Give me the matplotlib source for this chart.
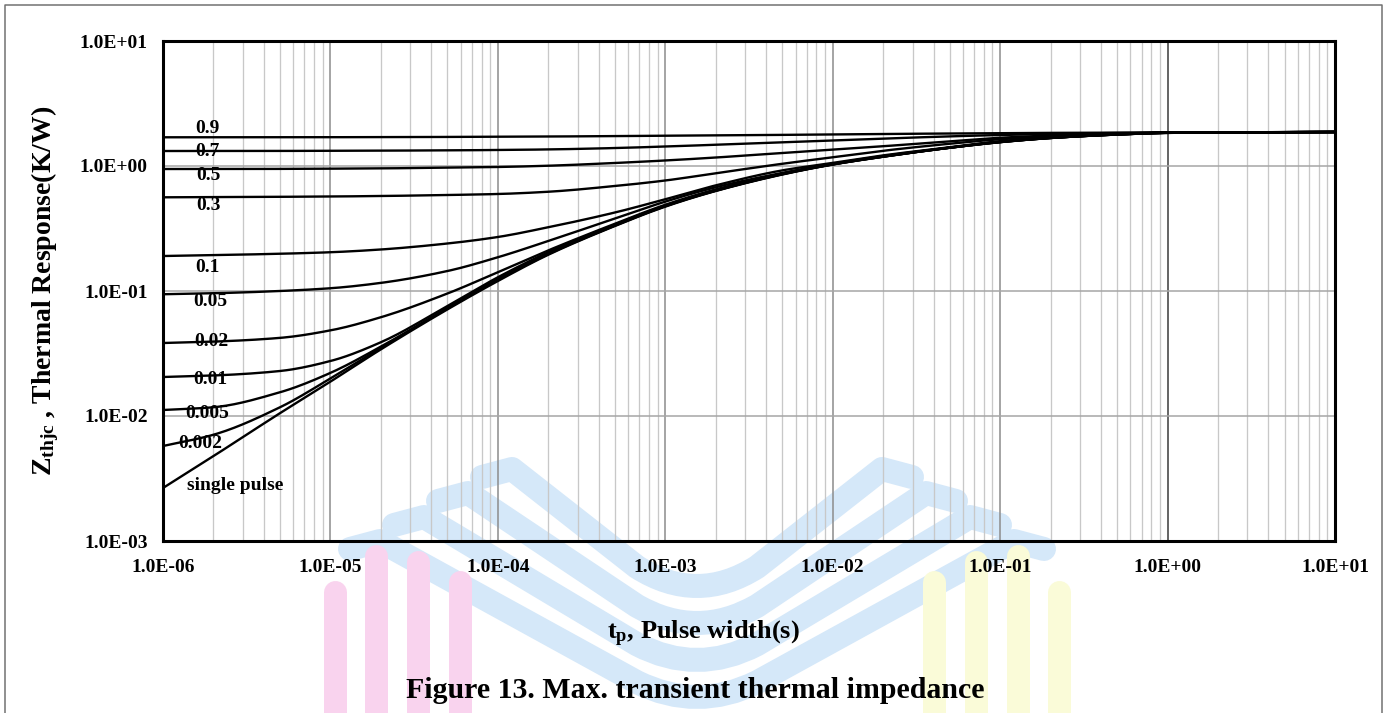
import numpy as np
import matplotlib
matplotlib.use("Agg")
import matplotlib.pyplot as plt
from matplotlib.path import Path
from matplotlib.patches import PathPatch
from matplotlib.ticker import FixedLocator, LogLocator, FuncFormatter, NullFormatter

plt.rcParams["font.family"] = ["Liberation Serif", "DejaVu Serif"]
plt.rcParams["font.weight"] = "bold"
plt.rcParams["mathtext.fontset"] = "custom"
plt.rcParams["mathtext.rm"] = "Liberation Serif:bold"
plt.rcParams["mathtext.it"] = "Liberation Serif:bold"
plt.rcParams["mathtext.bf"] = "Liberation Serif:bold"

# pulse width (s)
tp = [1e-6, 2e-6, 5e-6, 1e-5, 2e-5, 5e-5, 1e-4, 2e-4, 5e-4, 1e-3,
      2e-3, 5e-3, 1e-2, 2e-2, 5e-2, 1e-1, 2e-1, 5e-1, 1e0, 1e1]

# Zthjc (K/W) per duty cycle
z_09 = [1.697, 1.697, 1.698, 1.700, 1.702, 1.708, 1.716, 1.722, 1.734, 1.748,
        1.758, 1.774, 1.786, 1.803, 1.820, 1.832, 1.841, 1.849, 1.854, 1.871]
z_07 = [1.318, 1.318, 1.320, 1.323, 1.327, 1.334, 1.343, 1.357, 1.392, 1.432,
        1.479, 1.545, 1.600, 1.656, 1.726, 1.770, 1.803, 1.837, 1.854, 1.871]
z_05 = [0.946, 0.946, 0.948, 0.952, 0.957, 0.971, 0.982, 1.005, 1.057, 1.107,
        1.169, 1.271, 1.352, 1.439, 1.578, 1.683, 1.754, 1.820, 1.849, 1.871]
z_03 = [0.5618, 0.5636, 0.5669, 0.5702, 0.5754, 0.5861, 0.5970, 0.6223, 0.6918, 0.7656,
        0.8750, 1.042, 1.175, 1.324, 1.507, 1.637, 1.726, 1.811, 1.849, 1.871]
z_01 = [0.1905, 0.1936, 0.1986, 0.2042, 0.2148, 0.2399, 0.2704, 0.3236, 0.4246, 0.5420,
        0.6998, 0.9226, 1.059, 1.216, 1.413, 1.578, 1.690, 1.795, 1.845, 1.871]
z_005 = [0.0942, 0.0959, 0.1000, 0.1052, 0.1161, 0.1445, 0.1862, 0.2512, 0.3802, 0.5188,
         0.6761, 0.8810, 1.042, 1.202, 1.406, 1.567, 1.683, 1.791, 1.845, 1.871]
z_002 = [0.03837, 0.03936, 0.04217, 0.04842, 0.06166, 0.09550, 0.1413, 0.2113, 0.3451, 0.4898,
         0.6501, 0.8710, 1.038, 1.194, 1.403, 1.560, 1.679, 1.788, 1.844, 1.871]
z_001 = [0.02051, 0.02109, 0.02291, 0.02754, 0.03890, 0.07586, 0.1288, 0.2042, 0.3388, 0.4831,
         0.6397, 0.8650, 1.033, 1.190, 1.401, 1.556, 1.677, 1.787, 1.842, 1.871]
z_0005 = [0.01117, 0.01175, 0.01549, 0.02213, 0.03589, 0.07328, 0.1245, 0.1995, 0.3350, 0.4786,
          0.6353, 0.8610, 1.030, 1.189, 1.400, 1.554, 1.676, 1.787, 1.841, 1.871]
z_0002 = [0.005754, 0.007079, 0.01175, 0.01995, 0.03508, 0.07244, 0.1230, 0.1972, 0.3334, 0.4764,
          0.6339, 0.8590, 1.029, 1.187, 1.400, 1.552, 1.675, 1.786, 1.841, 1.871]
z_single = [0.002655, 0.004775, 0.01054, 0.01884, 0.03412, 0.07129, 0.1202, 0.1950, 0.3311, 0.4732,
            0.6310, 0.8551, 1.028, 1.186, 1.400, 1.552, 1.675, 1.786, 1.841, 1.871]

curves = [z_09, z_07, z_05, z_03, z_01, z_005, z_002, z_001, z_0005, z_0002, z_single]
curve_names = ["0.9", "0.7", "0.5", "0.3", "0.1", "0.05", "0.02", "0.01", "0.005", "0.002", "single pulse"]
# label anchor (axes fraction, baseline)
label_pos = [(0.0375, 0.816), (0.0375, 0.769), (0.0384, 0.723), (0.0384, 0.662),
             (0.0375, 0.539), (0.0401, 0.469), (0.041, 0.389), (0.0401, 0.314),
             (0.0375, 0.245), (0.0316, 0.185), (0.0614, 0.102)]


def smooth_loglog(x, y, per_seg=16):
    """Monotone cubic (Fritsch-Carlson) through the points, done in log-log space."""
    lx, ly = np.log10(x), np.log10(y)
    h = np.diff(lx)
    d = np.diff(ly) / h
    m = np.empty_like(ly)
    m[0], m[-1] = d[0], d[-1]
    for k in range(1, len(lx) - 1):
        if d[k - 1] * d[k] <= 0:
            m[k] = 0.0
        else:
            w1 = 2 * h[k] + h[k - 1]
            w2 = h[k] + 2 * h[k - 1]
            m[k] = (w1 + w2) / (w1 / d[k - 1] + w2 / d[k])
    xs, ys = [], []
    for k in range(len(lx) - 1):
        t = np.linspace(0, 1, per_seg, endpoint=False)
        h00 = 2 * t**3 - 3 * t**2 + 1
        h10 = t**3 - 2 * t**2 + t
        h01 = -2 * t**3 + 3 * t**2
        h11 = t**3 - t**2
        xs.append(lx[k] + t * h[k])
        ys.append(h00 * ly[k] + h10 * h[k] * m[k] + h01 * ly[k + 1] + h11 * h[k] * m[k + 1])
    xs.append([lx[-1]])
    ys.append([ly[-1]])
    return 10 ** np.concatenate(xs), 10 ** np.concatenate(ys)


W, H = 1391, 713
fig = plt.figure(figsize=(W / 100, H / 100), dpi=100)
px = 72 / fig.dpi

# background logo + page frame, in pixel coordinates
bg = fig.add_axes([0, 0, 1, 1], zorder=-1)
bg.set_xlim(0, W)
bg.set_ylim(H, 0)
bg.axis("off")
mid = 697
for cx, top in zip([335, 376, 418, 460], [592, 556, 562, 582]):
    bg.plot([cx, cx], [H + 30, top], color="#f9d3ee", lw=23 * px, solid_capstyle="round")
    bg.plot([2 * mid - cx] * 2, [H + 30, top], color="#fafbd8", lw=23 * px, solid_capstyle="round")

for i in range(4):
    ax0, ay0 = 482 - 44 * i, 477 + 24 * i
    hx, hy = ax0 + 30, ay0 - 8
    vy = 586 + 37 * i
    slope = (vy - hy) / (mid - hx)
    cy = vy + 30 * slope
    p1 = (mid - 60, cy - 60 * slope)
    p2 = (mid + 60, cy - 60 * slope)
    verts = [(ax0, ay0), (hx, hy), p1, (mid, cy), p2, (2 * mid - hx, hy), (2 * mid - ax0, ay0)]
    codes = [Path.MOVETO, Path.LINETO, Path.LINETO, Path.CURVE3, Path.CURVE3, Path.LINETO, Path.LINETO]
    band = PathPatch(Path(verts, codes), fill=False, edgecolor="#d5e8f9", lw=24 * px,
                     capstyle="round", joinstyle="round")
    bg.add_patch(band)

bg.plot([5, 5, W - 9, W - 9], [H + 5, 5, 5, H + 5], color="#6e6e6e", lw=1.5 * px)

ax = fig.add_axes([163 / W, (H - 541) / H, 1172 / W, 500 / H])
ax.set_facecolor("none")

for z in curves:
    sx, sy = smooth_loglog(tp, z)
    ax.plot(sx, sy, color="black", lw=1.7)

ax.set_xscale("log")
ax.set_yscale("log")
ax.set_xlim(1e-6, 1e1)
ax.set_ylim(1e-3, 1e1)

x_major = [1e-6, 1e-5, 1e-4, 1e-3, 1e-2, 1e-1, 1e0, 1e1]
y_major = [1e-3, 1e-2, 1e-1, 1e0, 1e1]
ax.xaxis.set_major_locator(FixedLocator(x_major))
ax.yaxis.set_major_locator(FixedLocator(y_major))
ax.xaxis.set_minor_locator(LogLocator(base=10, subs=range(2, 10), numticks=100))
ax.yaxis.set_minor_locator(LogLocator(base=10, subs=range(2, 10), numticks=100))
ax.xaxis.set_minor_formatter(NullFormatter())
ax.yaxis.set_minor_formatter(NullFormatter())
fmt = FuncFormatter(lambda v, pos: f"{v:.1E}")
ax.xaxis.set_major_formatter(fmt)
ax.yaxis.set_major_formatter(fmt)

ax.grid(True, which="major", axis="x", color="#8c8c8c", lw=1.1)
ax.grid(True, which="minor", axis="x", color="#c8c8c8", lw=0.95)
ax.grid(True, which="major", axis="y", color="#a6a6a6", lw=1.1)
for gl, loc in zip(ax.get_xgridlines(), ax.get_xticks()):
    if abs(loc - 1.0) < 1e-9:
        gl.set_color("#3a3a3a")

ax.tick_params(which="both", length=0)
ax.tick_params(axis="x", pad=13, labelsize=14)
ax.tick_params(axis="y", pad=11, labelsize=14)
for lab in ax.get_xticklabels() + ax.get_yticklabels():
    lab.set_fontweight("bold")

for s in ax.spines.values():
    s.set_linewidth(2.2)
    s.set_color("black")

for name, (fx, fy) in zip(curve_names, label_pos):
    ax.text(fx, fy, name, transform=ax.transAxes, ha="center", va="baseline",
            fontsize=14, fontweight="bold")

fig.text(45 / W, 1 - 291 / H, r"$\mathrm{Z_{thjc}}$ , Thermal Response(K/W)",
         rotation=90, ha="center", va="center", fontsize=20, fontweight="bold")
fig.text(703 / W, 1 - 634 / H, r"$\mathrm{t_p}$, Pulse width(s)",
         ha="center", va="center", fontsize=19, fontweight="bold")
fig.text(695 / W, 1 - 690 / H, "Figure 13. Max. transient thermal impedance",
         ha="center", va="center", fontsize=21.5, fontweight="bold")

fig.savefig("out.png", dpi=100)
